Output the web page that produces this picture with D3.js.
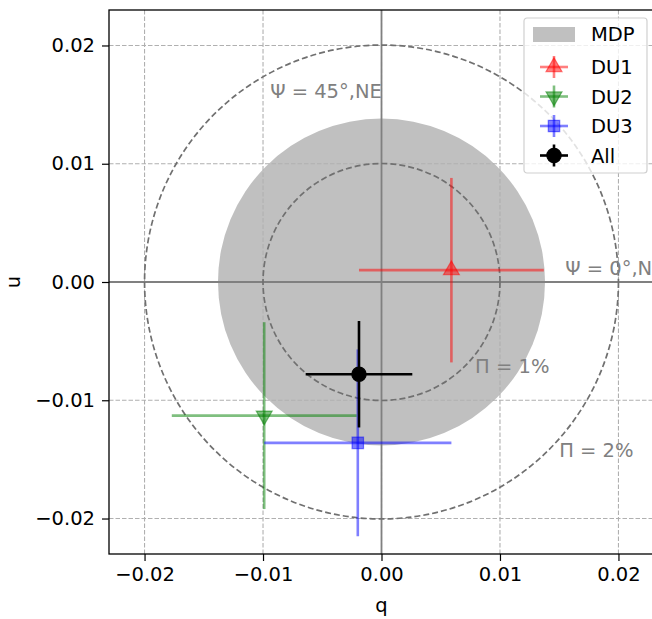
<!DOCTYPE html>
<html lang="en">
<head>
  <meta charset="UTF-8">
  <title>q-u plane</title>
  <style>
    body { margin: 0; background: #fff; }
    text { font-family: "DejaVu Sans", sans-serif; }
  </style>
</head>
<body>
  <svg id="svg" width="652" height="619"></svg>
  <script src="https://d3js.org/d3.v7.min.js"></script>
  <script>
    // data
    const names = ['DU1', 'DU2', 'DU3', 'All']
    const qVals = [0.0059, -0.0099, -0.0020, -0.0019]
    const uVals = [0.0010, -0.0113, -0.0136, -0.0078]
    const qErr = [0.0078, 0.0078, 0.0079, 0.0045]
    const uErr = [0.0078, 0.0079, 0.0079, 0.0045]
    const colors = ['red', 'green', 'blue', 'black']
    const alphas = [0.5, 0.5, 0.5, 1]
    const markers = ['triangleUp', 'triangleDown', 'square', 'circle']
    const mdp = 0.0138
    const rings = [0.01, 0.02]
    const ticks = [-0.02, -0.01, 0.0, 0.01, 0.02]
    const notes = [
      { text: 'Ψ = 45°,NE', q: -0.0094, u: 0.0156 },
      { text: 'Ψ = 0°,N', q: 0.0155, u: 0.0006 },
      { text: 'Π = 1%', q: 0.0079, u: -0.0077 },
      { text: 'Π = 2%', q: 0.0150, u: -0.0148 }
    ]

    const FS = 19.5
    const svg = d3.select('#svg')

    const x = d3.scaleLinear().domain([-0.023, 0.023]).range([109, 654])
    const y = d3.scaleLinear().domain([-0.023, 0.023]).range([554, 10])
    const px = v => x(v) - x(0)

    svg.append('defs').append('clipPath').attr('id', 'clip')
      .append('rect').attr('x', x(-0.023)).attr('y', y(0.023))
      .attr('width', x(0.023) - x(-0.023)).attr('height', y(-0.023) - y(0.023))
    const plot = svg.append('g').attr('clip-path', 'url(#clip)')

    // MDP disc
    plot.append('circle')
      .attr('cx', x(0)).attr('cy', y(0)).attr('r', px(mdp))
      .attr('fill', '#c0c0c0')

    // grid
    plot.selectAll('.gx').data(ticks).enter().append('line')
      .attr('x1', d => x(d)).attr('x2', d => x(d))
      .attr('y1', y(-0.023)).attr('y2', y(0.023))
      .attr('stroke', '#b0b0b0').attr('stroke-width', 1.1).attr('stroke-dasharray', '4.5,2')
    plot.selectAll('.gy').data(ticks).enter().append('line')
      .attr('y1', d => y(d)).attr('y2', d => y(d))
      .attr('x1', x(-0.023)).attr('x2', x(0.023))
      .attr('stroke', '#b0b0b0').attr('stroke-width', 1.1).attr('stroke-dasharray', '4.5,2')

    // zero lines
    plot.append('line').attr('x1', x(0)).attr('x2', x(0)).attr('y1', y(-0.023)).attr('y2', y(0.023))
      .attr('stroke', 'grey').attr('stroke-width', 1.8)
    plot.append('line').attr('y1', y(0)).attr('y2', y(0)).attr('x1', x(-0.023)).attr('x2', x(0.023))
      .attr('stroke', 'grey').attr('stroke-width', 1.8)

    // polarisation rings
    plot.selectAll('.ring').data(rings).enter().append('circle')
      .attr('cx', x(0)).attr('cy', y(0)).attr('r', d => px(d))
      .attr('fill', 'none').attr('stroke', '#707070').attr('stroke-width', 1.7)
      .attr('stroke-dasharray', '6,3')

    // notes
    plot.selectAll('.note').data(notes).enter().append('text')
      .attr('x', d => x(d.q)).attr('y', d => y(d.u))
      .attr('fill', 'grey').attr('font-size', FS)
      .text(d => d.text)

    const symbolFor = {
      triangleUp: d3.symbol().type(d3.symbolTriangle).size(110),
      triangleDown: d3.symbol().type(d3.symbolTriangle).size(110),
      square: d3.symbol().type(d3.symbolSquare).size(130),
      circle: d3.symbol().type(d3.symbolCircle).size(160)
    }

    function drawMarker(g, i, cx, cy) {
      const col = colors[i]
      g.append('path')
        .attr('d', symbolFor[markers[i]]())
        .attr('transform', `translate(${cx},${cy})` + (markers[i] === 'triangleDown' ? ' rotate(180)' : ''))
        .attr('fill', col).attr('fill-opacity', alphas[i])
        .attr('stroke', col).attr('stroke-opacity', alphas[i]).attr('stroke-width', 1.2)
    }

    // error bars
    names.forEach((n, i) => {
      const g = plot.append('g')
      const col = colors[i]
      g.append('line')
        .attr('x1', x(qVals[i] - qErr[i])).attr('x2', x(qVals[i] + qErr[i]))
        .attr('y1', y(uVals[i])).attr('y2', y(uVals[i]))
        .attr('stroke', col).attr('stroke-opacity', alphas[i]).attr('stroke-width', 2.6)
      g.append('line')
        .attr('x1', x(qVals[i])).attr('x2', x(qVals[i]))
        .attr('y1', y(uVals[i] - uErr[i])).attr('y2', y(uVals[i] + uErr[i]))
        .attr('stroke', col).attr('stroke-opacity', alphas[i]).attr('stroke-width', 2.6)
      drawMarker(g, i, x(qVals[i]), y(uVals[i]))
    })

    // frame
    svg.append('rect')
      .attr('x', x(-0.023)).attr('y', y(0.023))
      .attr('width', x(0.023) - x(-0.023)).attr('height', y(-0.023) - y(0.023))
      .attr('fill', 'none').attr('stroke', 'black').attr('stroke-width', 1.3)

    // axes
    const fmt = d => d3.format('.2f')(d).replace('-', '\u2212')
    const bottom = svg.append('g').attr('transform', `translate(0,${y(-0.023)})`)
      .call(d3.axisBottom(x).tickValues(ticks).tickFormat(fmt).tickSize(7).tickPadding(6))
    const left = svg.append('g').attr('transform', `translate(${x(-0.023)},0)`)
      .call(d3.axisLeft(y).tickValues(ticks).tickFormat(fmt).tickSize(7).tickPadding(7))
    ;[bottom, left].forEach(a => {
      a.select('.domain').remove()
      a.selectAll('text').attr('font-size', FS).attr('font-family', 'DejaVu Sans').attr('fill', 'black')
      a.selectAll('line').attr('stroke', 'black').attr('stroke-width', 1.2)
    })

    svg.append('text').attr('x', x(0)).attr('y', 612).attr('text-anchor', 'middle')
      .attr('font-size', FS).text('q')
    svg.append('text').attr('transform', `translate(20,${y(0)}) rotate(-90)`)
      .attr('text-anchor', 'middle').attr('font-size', FS).text('u')

    // legend
    const leg = svg.append('g').attr('transform', 'translate(524,18)')
    leg.append('rect').attr('width', 123).attr('height', 155).attr('rx', 3)
      .attr('fill', 'white').attr('fill-opacity', 0.8).attr('stroke', '#d0d0d0').attr('stroke-width', 1.2)
    leg.append('rect').attr('x', 9).attr('y', 9).attr('width', 42).attr('height', 15).attr('fill', '#c0c0c0')
    leg.append('text').attr('x', 67).attr('y', 23).attr('font-size', FS).text('MDP')
    names.forEach((n, i) => {
      const ly = 49 + i * 29.5
      const g = leg.append('g')
      g.append('line').attr('x1', 16).attr('x2', 44).attr('y1', ly).attr('y2', ly)
        .attr('stroke', colors[i]).attr('stroke-opacity', alphas[i]).attr('stroke-width', 2.6)
      g.append('line').attr('x1', 30).attr('x2', 30).attr('y1', ly - 11).attr('y2', ly + 11)
        .attr('stroke', colors[i]).attr('stroke-opacity', alphas[i]).attr('stroke-width', 2.6)
      drawMarker(g, i, 30, ly)
      leg.append('text').attr('x', 67).attr('y', ly + 7).attr('font-size', FS).text(n)
    })
  </script>
</body>
</html>
